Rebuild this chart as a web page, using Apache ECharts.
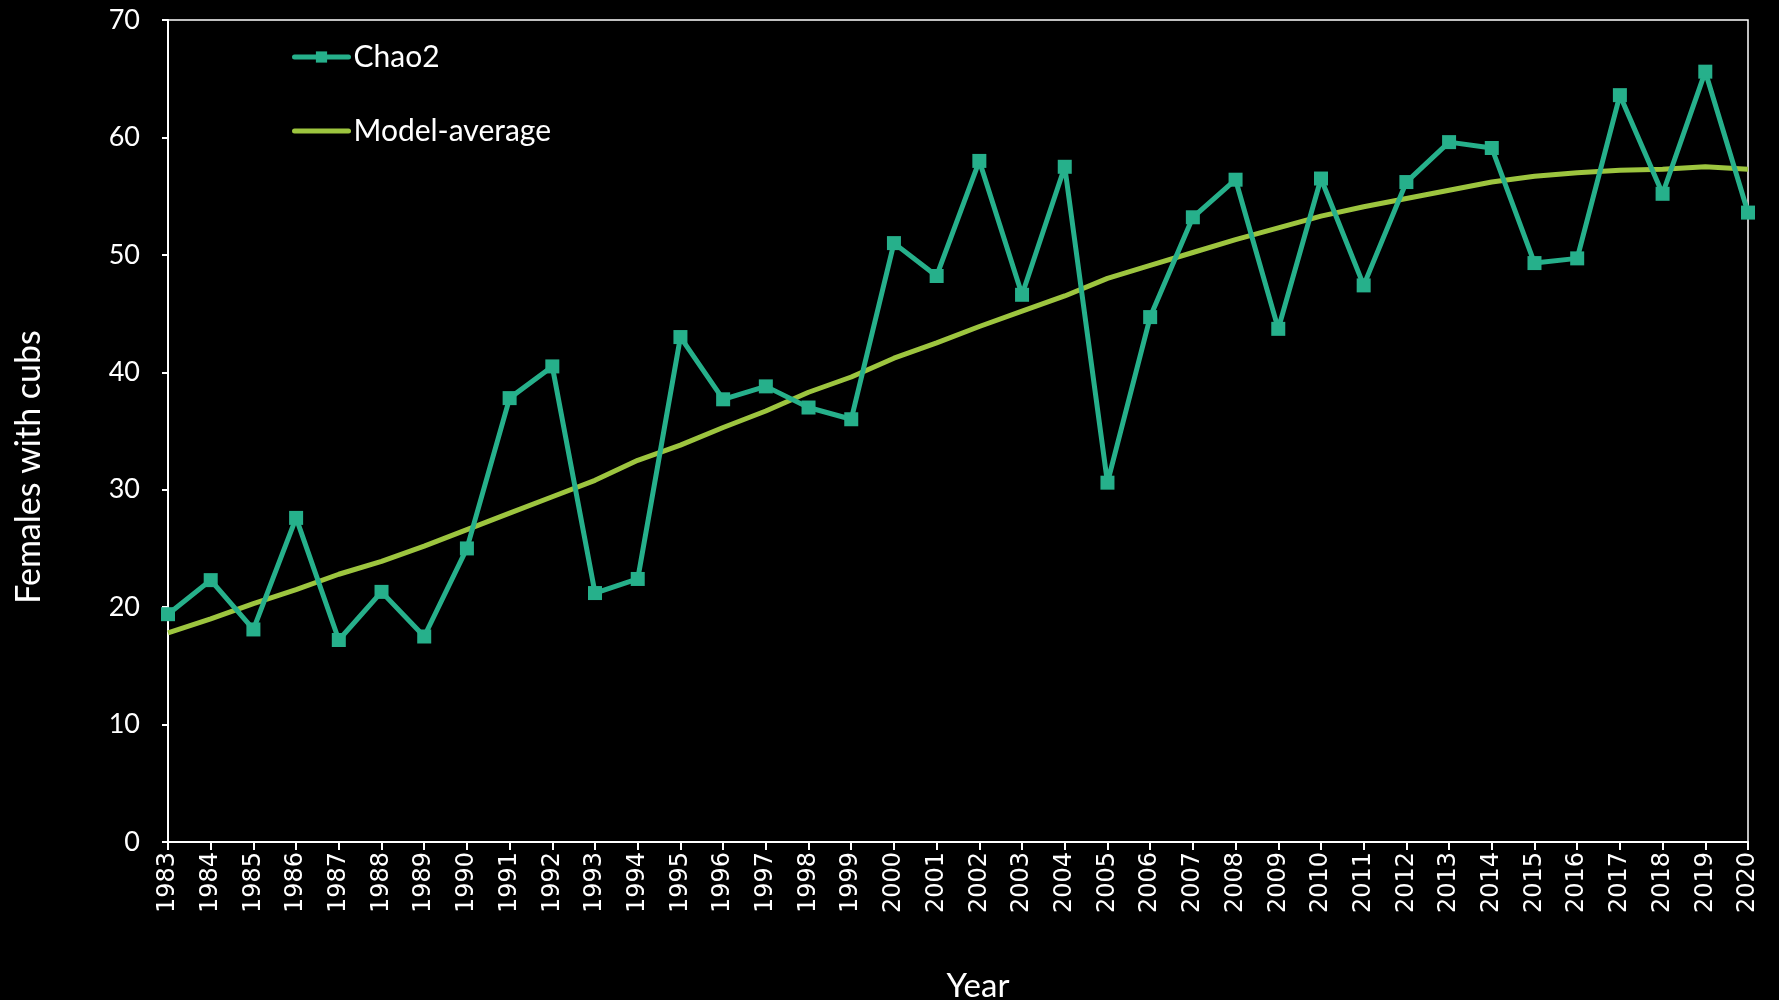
<!DOCTYPE html>
<html>
<head>
<meta charset="utf-8">
<script src="https://cdn.jsdelivr.net/npm/echarts@6/dist/echarts.min.js"></script>
<style>
html,body{margin:0;padding:0;background:#000;}
#chart{width:1779px;height:1000px;}
</style>
</head>
<body>
<div id="chart"></div>
<script>
const years = ['1983','1984','1985','1986','1987','1988','1989','1990','1991','1992','1993','1994','1995','1996','1997','1998','1999','2000','2001','2002','2003','2004','2005','2006','2007','2008','2009','2010','2011','2012','2013','2014','2015','2016','2017','2018','2019','2020'];
const chao2 = [19.4,22.3,18.1,27.6,17.2,21.3,17.5,25.0,37.8,40.5,21.2,22.4,43.0,37.7,38.8,37.0,36.0,51.0,48.2,58.0,46.6,57.5,30.6,44.7,53.2,56.4,43.7,56.5,47.4,56.2,59.6,59.1,49.3,49.7,63.6,55.2,65.6,53.6];
const modelAverage = [17.8,19.0,20.3,21.5,22.8,23.9,25.2,26.6,28.0,29.4,30.8,32.5,33.8,35.3,36.7,38.3,39.6,41.2,42.5,43.9,45.2,46.5,48.0,49.1,50.2,51.3,52.3,53.3,54.1,54.8,55.5,56.2,56.7,57.0,57.2,57.3,57.5,57.3];
const yTicks = [0,10,20,30,40,50,60,70];

const chart = echarts.init(document.getElementById('chart'));
chart.setOption({
  backgroundColor: '#000000',
  animation: false,
  grid: {left: 168, right: 31, top: 20, bottom: 158, outerBoundsMode: 'none', containLabel: false,
    show: true, borderColor: '#ffffff', borderWidth: 1.5, backgroundColor: 'transparent'},
  legend: {
    orient: 'vertical', left: 287, top: 37, itemGap: 44, itemWidth: 54, itemHeight: 14,
    textStyle: {color: '#ffffff', fontSize: 30, fontFamily: 'Lato'},
    lineStyle: {width: 5, cap: 'round'},
    data: [
      {name: 'Chao2'},
      {name: 'Model-average', itemStyle: {opacity: 0}}
    ]
  },
  xAxis: {
    type: 'category', data: years, boundaryGap: false,
    name: 'Year', nameLocation: 'middle', nameGap: 128,
    nameTextStyle: {color: '#ffffff', fontSize: 33, fontFamily: 'Lato', padding: [0,0,0,40]},
    axisLine: {lineStyle: {color: '#ffffff', width: 2}},
    axisTick: {show: true, alignWithLabel: true, interval: 0, length: 8, lineStyle: {color: '#ffffff', width: 2}},
    axisLabel: {color: '#ffffff', rotate: 90, interval: 0, fontSize: 24, fontFamily: 'DejaVu Sans', margin: 10},
    splitLine: {show: false}
  },
  yAxis: {
    type: 'value', min: 0, max: 70, interval: 10,
    name: 'Females with cubs', nameLocation: 'middle', nameGap: 122,
    nameTextStyle: {color: '#ffffff', fontSize: 34, fontFamily: 'Lato', padding: [0, 72, 0, 0]},
    axisLine: {show: true, lineStyle: {color: '#ffffff', width: 2}},
    axisTick: {show: true, length: 6, lineStyle: {color: '#ffffff', width: 2}},
    axisLabel: {color: '#ffffff', fontSize: 27, fontFamily: 'Lato', margin: 28,
      formatter: function (v) { return yTicks.indexOf(v) >= 0 ? String(v) : ''; }},
    splitLine: {show: false}
  },
  series: [
    {
      name: 'Chao2', type: 'line', data: chao2,
      symbol: 'rect', symbolSize: 14, showAllSymbol: true,
      lineStyle: {color: '#26B08B', width: 5},
      itemStyle: {color: '#26B08B'},
      z: 3
    },
    {
      name: 'Model-average', type: 'line', data: modelAverage,
      symbol: 'none', smooth: false,
      lineStyle: {color: '#9DC53F', width: 5},
      itemStyle: {color: '#9DC53F'},
      z: 2
    }
  ]
});
</script>
</body>
</html>
